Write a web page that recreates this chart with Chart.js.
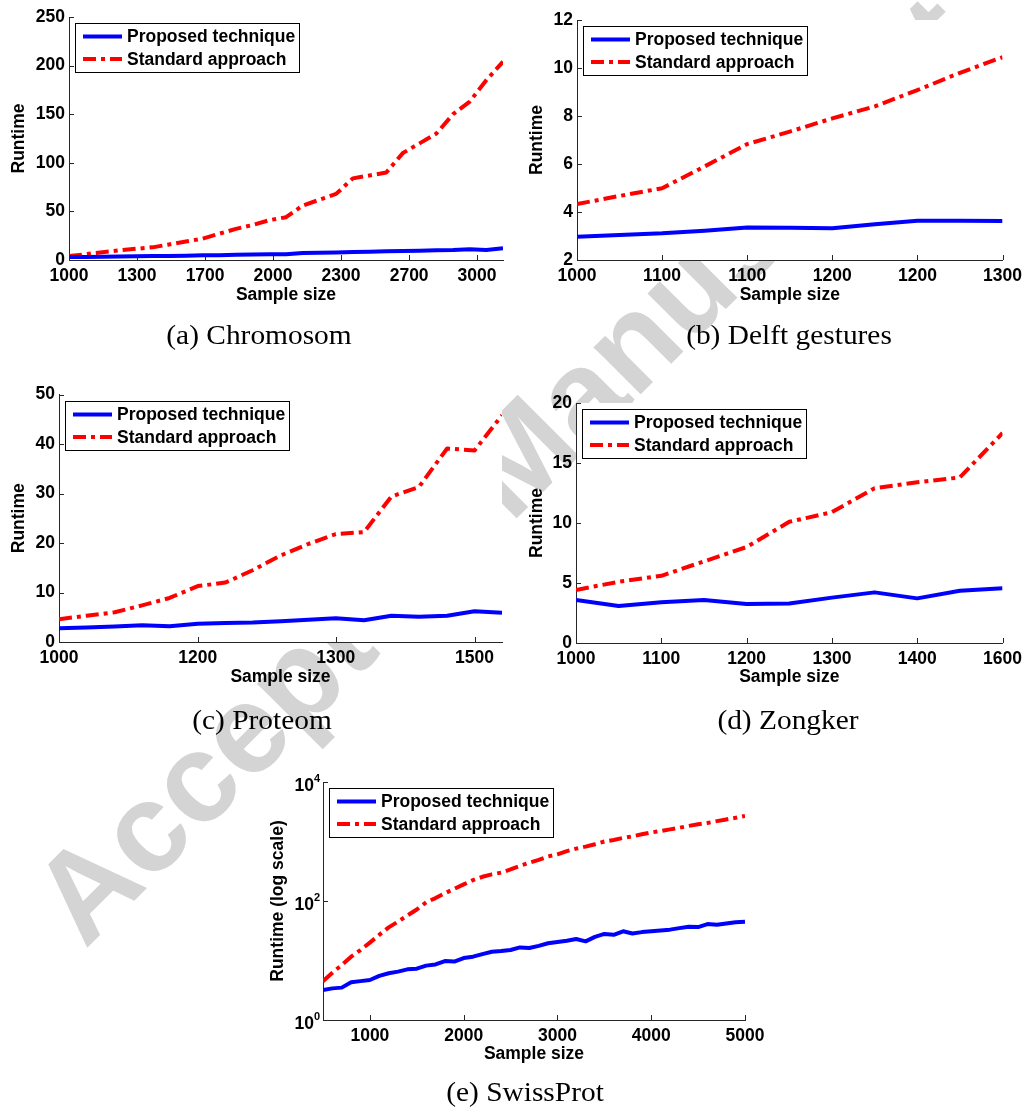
<!DOCTYPE html>
<html>
<head>
<meta charset="utf-8">
<script src="https://cdn.jsdelivr.net/npm/chart.js@4.4.1/dist/chart.umd.min.js"></script>
<style>
  html, body { margin: 0; padding: 0; background: #fff; }
  body { width: 1028px; height: 1108px; position: relative; overflow: hidden; }
  canvas { position: absolute; }
  .cap { position: absolute; white-space: nowrap; font-family: "Liberation Serif", "Times New Roman", serif;
         font-size: 28px; color: #000; transform: translate(-50%, -50%) scaleX(1.05); line-height: 1; }
</style>
</head>
<body>
<canvas id="stamp" width="1028" height="1108" style="left:0;top:0"></canvas>
<canvas id="chromosom"></canvas>
<canvas id="delft"></canvas>
<canvas id="proteom"></canvas>
<canvas id="zongker"></canvas>
<canvas id="swissprot"></canvas>
<div class="cap" style="left:259px;top:335px">(a) Chromosom</div>
<div class="cap" style="left:789px;top:335px">(b) Delft gestures</div>
<div class="cap" style="left:262px;top:720px">(c) Proteom</div>
<div class="cap" style="left:788px;top:720px">(d) Zongker</div>
<div class="cap" style="left:525px;top:1092px">(e) SwissProt</div>
<script>
// ---- (a) Chromosom ----
const chromSizes = [1000, 1082, 1164, 1246, 1327, 1409, 1491, 1573, 1655, 1736, 1818, 1900, 1982, 2064,
                    2145, 2227, 2309, 2391, 2473, 2555, 2636, 2718, 2800, 2882, 2964, 3045, 3127];
const chromProposed = [3.0, 3.2, 3.4, 3.6, 3.8, 4.0, 4.2, 4.5, 4.8, 5.0, 5.3, 5.6, 5.8, 6.0,
                       7.3, 7.5, 7.8, 8.2, 8.5, 9.0, 9.2, 9.5, 10.0, 10.3, 11.0, 10.2, 12.0];
const chromStandard = [4, 6, 8, 10, 11.5, 13, 16, 19, 22, 27, 32, 36, 41, 44,
                       56, 62, 68, 84, 87, 90, 110, 120, 130, 150, 163, 185, 204];
const chromTicks = [1000, 1333, 1667, 2000, 2333, 2667, 3000];
const chromTickLabels = ['1000', '1300', '1700', '2000', '2300', '2700', '3000'];

// ---- (b) Delft gestures ----
const delftSizes = [1000, 1030, 1060, 1090, 1120, 1150, 1180, 1210, 1240, 1270, 1300];
const delftProposed = [2.97, 3.04, 3.11, 3.22, 3.35, 3.34, 3.32, 3.49, 3.64, 3.64, 3.63];
const delftStandard = [4.33, 4.67, 4.99, 5.9, 6.83, 7.35, 7.9, 8.4, 9.08, 9.8, 10.45];
const delftTicks = [1000, 1060, 1120, 1180, 1240, 1300];
const delftTickLabels = ['1000', '1100', '1100', '1200', '1200', '1300'];

// ---- (c) Proteom ----
const proteomSizes = [1000, 1033, 1067, 1100, 1133, 1167, 1200, 1233, 1267, 1300, 1333, 1367, 1400, 1433, 1467, 1500, 1533];
const proteomProposed = [2.76, 2.95, 3.15, 3.4, 3.2, 3.7, 3.85, 3.95, 4.2, 4.5, 4.8, 4.4, 5.3, 5.1, 5.3, 6.2, 5.9];
const proteomStandard = [4.6, 5.3, 6.0, 7.4, 8.9, 11.3, 12.0, 14.5, 17.5, 19.8, 21.8, 22.2, 29.4, 31.3, 39.1, 38.7, 45.8];
const proteomTicks = [1000, 1167, 1333, 1500];
const proteomTickLabels = ['1000', '1200', '1300', '1500'];

// ---- (d) Zongker ----
const zongkerSizes = [1000, 1060, 1120, 1180, 1240, 1300, 1360, 1420, 1480, 1540, 1600];
const zongkerProposed = [3.58, 3.08, 3.4, 3.58, 3.25, 3.3, 3.78, 4.22, 3.72, 4.36, 4.56];
const zongkerStandard = [4.42, 5.1, 5.6, 6.8, 8.0, 10.1, 10.9, 12.9, 13.4, 13.8, 17.5];
const zongkerTicks = [1000, 1120, 1240, 1360, 1480, 1600];
const zongkerTickLabels = ['1000', '1100', '1200', '1300', '1400', '1600'];

// ---- (e) SwissProt (log runtime) ----
const swissSizes = [500, 600, 700, 800, 900, 1000, 1100, 1200, 1300, 1400, 1500, 1600, 1700, 1800, 1900,
                    2000, 2100, 2200, 2300, 2400, 2500, 2600, 2700, 2800, 2900, 3000, 3100, 3200, 3300, 3400,
                    3500, 3600, 3700, 3800, 3900, 4000, 4100, 4200, 4300, 4400, 4500, 4600, 4700, 4800, 4900, 5000];
const swissProposed = [3.2, 3.4, 3.5, 4.3, 4.5, 4.7, 5.5, 6.1, 6.5, 7.1, 7.3, 8.2, 8.6, 9.8, 9.6,
                       11.0, 11.6, 12.8, 14.0, 14.4, 15.0, 16.6, 16.2, 17.6, 19.5, 20.5, 21.5, 23.0, 21.0, 25.0,
                       28.0, 27.0, 31.0, 28.5, 30.0, 31.0, 32.0, 33.0, 35.0, 37.0, 36.5, 41.0, 40.0, 42.0, 44.0, 45.0];
const swissStandard = [4.5, 6.2, 8.4, 11.6, 15, 20, 27, 36, 45, 57, 72, 95, 112, 135, 160,
                       190, 225, 255, 280, 300, 340, 390, 440, 490, 560, 610, 690, 760, 820, 900,
                       1000, 1060, 1150, 1220, 1320, 1420, 1500, 1600, 1700, 1830, 1950, 2050, 2200, 2350, 2500, 2700];
const swissTicks = [1000, 2000, 3000, 4000, 5000];
const swissTickLabels = ['1000', '2000', '3000', '4000', '5000'];
const swissRuntimeTicks = [1, 100, 10000];
const swissRuntimeExponents = ['0', '2', '4'];

const seriesNames = ['Proposed technique', 'Standard approach'];
const xTitle = 'Sample size';

const FONT = '"Liberation Sans", Arial, Helvetica, sans-serif';
const AXIS = '#262626';
const TXT = 17.5;

// Faint diagonal stamp behind the panels
(function drawStamp() {
  const ctx = document.getElementById('stamp').getContext('2d');
  ctx.save();
  ctx.translate(85, 950);
  ctx.rotate(-Math.PI / 4);
  ctx.font = 'bold 126px ' + FONT;
  ctx.fillStyle = '#d4d4d4';
  ctx.textBaseline = 'alphabetic';
  ctx.fillText('Accepted Manuscript', 0, 0);
  ctx.restore();
})();

// White plotting area (covers the stamp, like an axes background)
const plotBackground = {
  id: 'plotBackground',
  beforeDraw(chart) {
    const { ctx, chartArea: a } = chart;
    ctx.save();
    ctx.fillStyle = '#fff';
    ctx.fillRect(a.left, a.top, a.right - a.left, a.bottom - a.top);
    ctx.restore();
  }
};

// Tick marks pointing into the plot
const innerTicks = {
  id: 'innerTicks',
  afterDatasetsDraw(chart) {
    const { ctx, chartArea: a, scales: { x, y } } = chart;
    ctx.save();
    ctx.strokeStyle = AXIS;
    ctx.lineWidth = 1;
    ctx.beginPath();
    x.ticks.forEach(t => {
      const px = Math.round(x.getPixelForValue(t.value)) + 0.5;
      ctx.moveTo(px, a.bottom); ctx.lineTo(px, a.bottom - 5);
    });
    y.ticks.forEach(t => {
      const py = Math.round(y.getPixelForValue(t.value)) + 0.5;
      ctx.moveTo(a.left, py); ctx.lineTo(a.left + 5, py);
    });
    ctx.stroke();
    ctx.restore();
  }
};

// Boxed legend inside the upper-left corner of the plot
const boxLegend = {
  id: 'boxLegend',
  afterDraw(chart, args, opts) {
    const { ctx, chartArea: a } = chart;
    ctx.save();
    ctx.font = 'bold ' + TXT + 'px ' + FONT;
    const items = chart.data.datasets;
    const textW = Math.max(...items.map(d => ctx.measureText(d.label).width));
    const x0 = Math.round(a.left + opts.dx), y0 = Math.round(a.top + opts.dy);
    const w = Math.round(8 + 39 + 5 + textW + 4);
    const h = 49;
    ctx.fillStyle = '#fff';
    ctx.fillRect(x0, y0, w, h);
    ctx.strokeStyle = '#000';
    ctx.lineWidth = 1;
    ctx.strokeRect(x0 + 0.5, y0 + 0.5, w, h);
    items.forEach((d, i) => {
      const cy = y0 + 13.5 + 22.6 * i;
      ctx.strokeStyle = d.borderColor;
      ctx.lineWidth = d.borderWidth;
      ctx.setLineDash(d.borderDash || []);
      ctx.beginPath();
      ctx.moveTo(x0 + 8, cy); ctx.lineTo(x0 + 47, cy);
      ctx.stroke();
      ctx.setLineDash([]);
      ctx.fillStyle = '#000';
      ctx.textBaseline = 'middle';
      ctx.textAlign = 'left';
      ctx.fillText(d.label, x0 + 52, cy + 1);
    });
    ctx.restore();
  }
};

// Powers of ten on the log runtime axis
const powerLabels = {
  id: 'powerLabels',
  afterDraw(chart, args, opts) {
    if (!opts.values) return;
    const { ctx, chartArea: a, scales: { y } } = chart;
    ctx.save();
    ctx.fillStyle = '#000';
    ctx.textBaseline = 'middle';
    ctx.textAlign = 'right';
    opts.values.forEach((v, i) => {
      const py = y.getPixelForValue(v);
      ctx.font = 'bold 11px ' + FONT;
      const ew = ctx.measureText(opts.exponents[i]).width;
      ctx.fillText(opts.exponents[i], a.left - 3, py - 3);
      ctx.font = 'bold ' + TXT + 'px ' + FONT;
      ctx.fillText('10', a.left - 3 - ew, py + 4);
    });
    ctx.restore();
  }
};

const txtFont = { family: FONT, size: TXT, weight: 'bold' };

function panel(id, box, plot, spec) {
  const cv = document.getElementById(id);
  cv.width = box.w; cv.height = box.h;
  cv.style.left = box.x + 'px'; cv.style.top = box.y + 'px';
  const pts = vals => spec.sizes.map((s, i) => ({ x: s, y: vals[i] }));
  const yTitleCenter = spec.yTitleX - box.x;
  const xTitleCenter = spec.xTitleY - box.y;
  return new Chart(cv, {
    type: 'line',
    data: {
      datasets: [
        { label: seriesNames[0], data: pts(spec.proposed), borderColor: '#0000ff', borderWidth: 4,
          pointRadius: 0, tension: 0, fill: false, borderJoinStyle: 'round' },
        { label: seriesNames[1], data: pts(spec.standard), borderColor: '#ff0000', borderWidth: 4,
          borderDash: [13, 5, 4, 5], pointRadius: 0, tension: 0, fill: false, borderJoinStyle: 'round' }
      ]
    },
    options: {
      responsive: false, animation: false, devicePixelRatio: 1,
      layout: { padding: { top: plot.t - box.y, right: box.x + box.w - plot.r, left: 0, bottom: 0 } },
      plugins: {
        legend: { display: false }, tooltip: { enabled: false },
        boxLegend: { dx: 6, dy: 6 },
        powerLabels: spec.log ? { values: spec.yTicks, exponents: spec.yExp } : {}
      },
      scales: {
        x: {
          type: 'linear', min: spec.sizes[0], max: spec.xMax,
          afterBuildTicks: s => { s.ticks = spec.xTicks.map(v => ({ value: v })); },
          afterFit: s => { s.height = box.y + box.h - plot.b; },
          grid: { display: false, drawTicks: false },
          border: { display: true, color: AXIS, width: 1 },
          ticks: { callback: (v, i) => spec.xLabels[i], font: txtFont, color: '#000', padding: 6,
                   maxRotation: 0, autoSkip: false },
          title: { display: true, text: xTitle, font: txtFont, color: '#000',
                   padding: { top: 0, bottom: box.h - xTitleCenter - TXT * 0.6 } }
        },
        y: {
          type: spec.log ? 'logarithmic' : 'linear', min: spec.yMin, max: spec.yMax,
          afterBuildTicks: spec.log ? (s => { s.ticks = spec.yTicks.map(v => ({ value: v })); }) : undefined,
          afterFit: s => { s.width = plot.l - box.x; },
          grid: { display: false, drawTicks: false },
          border: { display: true, color: AXIS, width: 1 },
          ticks: { display: !spec.log, stepSize: spec.yStep, font: txtFont, color: '#000', padding: 4 },
          title: { display: true, text: spec.yTitle, font: txtFont, color: '#000',
                   padding: { top: yTitleCenter - TXT * 0.6, bottom: 0 } }
        }
      }
    },
    plugins: [plotBackground, innerTicks, boxLegend, powerLabels]
  });
}

panel('chromosom', { x: 0, y: 0, w: 530, h: 308 }, { l: 69, t: 17, r: 503, b: 260 }, {
  sizes: chromSizes, proposed: chromProposed, standard: chromStandard, xMax: 3127,
  xTicks: chromTicks, xLabels: chromTickLabels, yMin: 0, yMax: 250, yStep: 50,
  yTitle: 'Runtime', yTitleX: 19, xTitleY: 295
});
panel('delft', { x: 515, y: 0, w: 513, h: 308 }, { l: 577, t: 20, r: 1006, b: 260 }, {
  sizes: delftSizes, proposed: delftProposed, standard: delftStandard, xMax: 1300,
  xTicks: delftTicks, xLabels: delftTickLabels, yMin: 2, yMax: 12, yStep: 2,
  yTitle: 'Runtime', yTitleX: 537, xTitleY: 295
});
panel('proteom', { x: 0, y: 380, w: 530, h: 310 }, { l: 59, t: 394, r: 502, b: 642 }, {
  sizes: proteomSizes, proposed: proteomProposed, standard: proteomStandard, xMax: 1533,
  xTicks: proteomTicks, xLabels: proteomTickLabels, yMin: 0, yMax: 50, yStep: 10,
  yTitle: 'Runtime', yTitleX: 19, xTitleY: 677
});
panel('zongker', { x: 515, y: 380, w: 513, h: 310 }, { l: 576, t: 403, r: 1006, b: 643 }, {
  sizes: zongkerSizes, proposed: zongkerProposed, standard: zongkerStandard, xMax: 1600,
  xTicks: zongkerTicks, xLabels: zongkerTickLabels, yMin: 0, yMax: 20, yStep: 5,
  yTitle: 'Runtime', yTitleX: 537, xTitleY: 677
});
panel('swissprot', { x: 260, y: 760, w: 520, h: 310 }, { l: 323, t: 782, r: 745, b: 1020 }, {
  sizes: swissSizes, proposed: swissProposed, standard: swissStandard, xMax: 5000,
  xTicks: swissTicks, xLabels: swissTickLabels, yMin: 1, yMax: 10000,
  log: true, yTicks: swissRuntimeTicks, yExp: swissRuntimeExponents,
  yTitle: 'Runtime (log scale)', yTitleX: 278, xTitleY: 1054
});
</script>
</body>
</html>
